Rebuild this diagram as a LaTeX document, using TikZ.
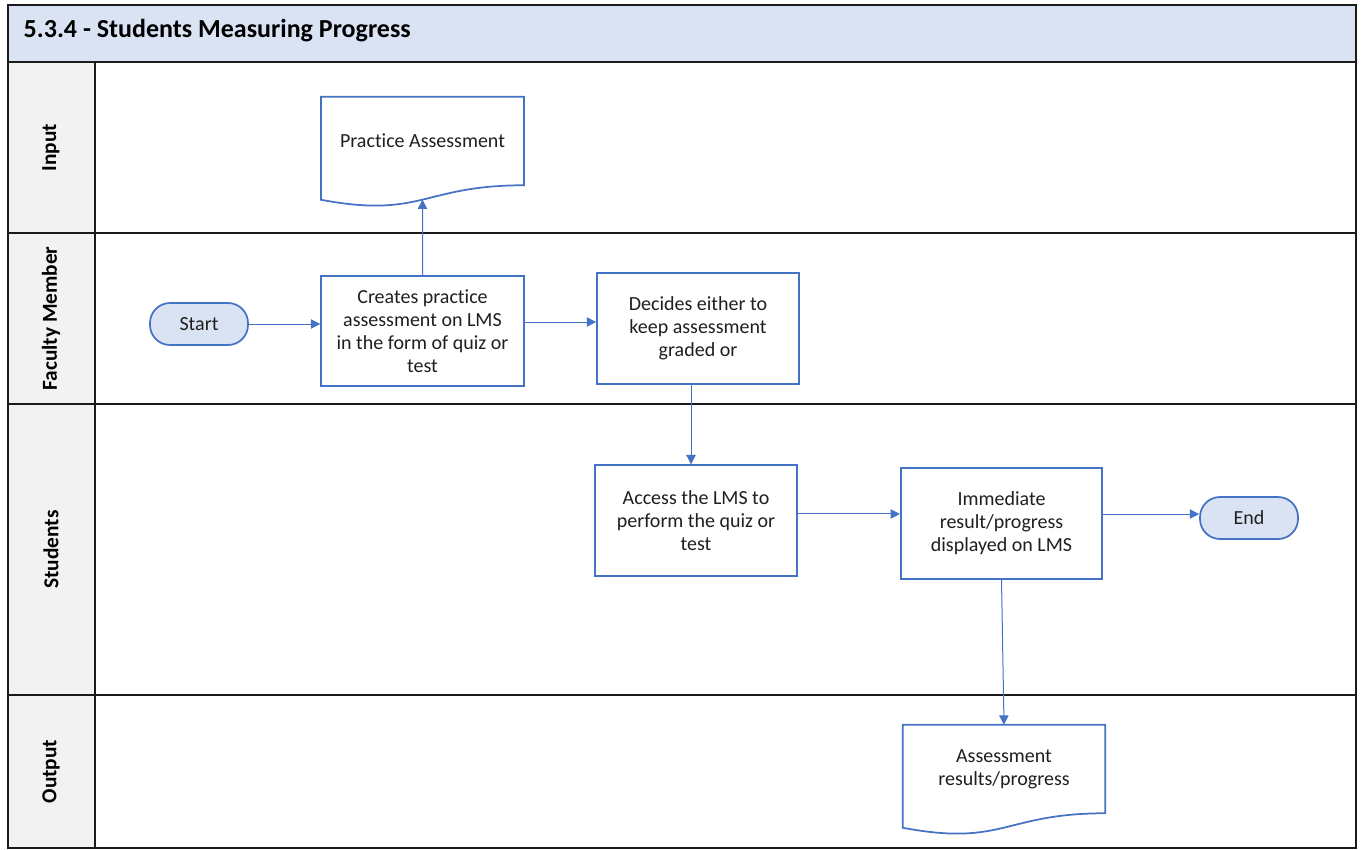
\documentclass[tikz,border=0pt]{standalone}
\usepackage{fontspec}
\setmainfont{Carlito}[Ligatures=NoCommon]
\usetikzlibrary{arrows.meta,calc}

\definecolor{flowblue}{HTML}{4472C4}
\definecolor{headfill}{HTML}{DAE3F3}
\definecolor{lanefill}{HTML}{F2F2F2}
\definecolor{gridline}{HTML}{1A1A1A}

\tikzset{
  bodytext/.style={font=\fontsize{15}{17.3}\selectfont, align=center, text=black!88},
  procbox/.style={bodytext, draw=flowblue, line width=1.3pt, fill=white,
    minimum width=152pt, minimum height=83pt, inner sep=1pt},
  termbox/.style={bodytext, draw=flowblue, line width=1.3pt, fill=headfill,
    rounded corners=15pt, minimum width=73.5pt, minimum height=31.5pt},
  docbox/.style={bodytext, minimum width=152pt, minimum height=66pt, inner sep=1pt},
  docline/.style={draw=flowblue, line width=1.3pt},
  arr/.style={draw=flowblue, line width=0.75pt, -{Triangle[length=7pt,width=7pt]}},
  lanelabel/.style={rotate=90, font=\bfseries\fontsize{16}{18}\selectfont},
  lanerule/.style={draw=gridline, line width=1.4pt},
}

% document shape: straight top and sides, wavy bottom edge
\newcommand{\docoutline}[1]{%
  \draw[docline] (#1.north west) -- (#1.north east) -- (#1.south east)
    .. controls (#1.south) and ($(#1.south)+(0,33.5)$) ..
    ($(#1.south west)+(0,14.5)$) coordinate[pos=0.5] (#1-wave) -- cycle;
}

\begin{document}
\begin{tikzpicture}[x=0.75pt,y=-0.75pt]
\useasboundingbox (0,0) rectangle (1362,849);

% header band and lane label column
\fill[headfill] (8,5) rectangle (1356,62);
\fill[lanefill] (8,62) rectangle (95,848);
\node[anchor=west, font=\bfseries\fontsize{19.5}{22}\selectfont] (title) at (19,31)
  {5.3.4 - Students Measuring Progress};

% swimlane grid
\draw[lanerule] (8,5) rectangle (1356,848);
\draw[lanerule] (8,62) -- (1356,62);
\draw[lanerule] (8,233) -- (1356,233);
\draw[lanerule] (8,404) -- (1356,404);
\draw[lanerule] (8,695) -- (1356,695);
\draw[lanerule] (95,62) -- (95,848);

% lane labels
\node[lanelabel] (lInput) at (51,147.5) {Input};
\node[lanelabel] (lFaculty) at (51,318.5) {Faculty Member};
\node[lanelabel] (lStudents) at (51,549.5) {Students};
\node[lanelabel] (lOutput) at (51,771.5) {Output};

% flow nodes
\node[termbox] (start) at (199,324) {Start};
\node[procbox] (creates) at (422.5,331) {Creates practice\\assessment on LMS\\in the form of quiz or\\test};
\node[procbox, minimum width=151.5pt] (decides) at (698,328.5) {Decides either to\\keep assessment\\graded or};
\node[procbox, minimum width=151.5pt] (access) at (696,520.5) {Access the LMS to\\perform the quiz or\\test};
\node[procbox, minimum width=151pt] (immediate) at (1001.5,523.5) {Immediate\\result/progress\\displayed on LMS};
\node[termbox] (end) at (1249,518) {End};

\node[docbox] (practice) at (422.5,141) {Practice Assessment};
\docoutline{practice}
\node[docbox, minimum width=151.5pt] (results) at (1004,769) {Assessment\\results/progress};
\docoutline{results}

% connectors
\draw[arr] (start.east) -- (start.east -| creates.west);
\draw[arr] (creates.north) -- (practice-wave);
\draw[arr] ([yshift=6.75pt]creates.east) -- ([yshift=6.75pt]creates.east -| decides.west);
\draw[arr] ([xshift=-5.25pt]decides.south) -- ([xshift=-5.25pt]decides.south |- access.north);
\draw[arr] ([yshift=4.9pt]access.east) -- ([yshift=4.9pt]access.east -| immediate.west);
\draw[arr] ([yshift=7.1pt]immediate.east) -- ([yshift=7.1pt]immediate.east -| end.west);
\draw[arr] (immediate.south) -- (results.north);
\end{tikzpicture}
\end{document}
